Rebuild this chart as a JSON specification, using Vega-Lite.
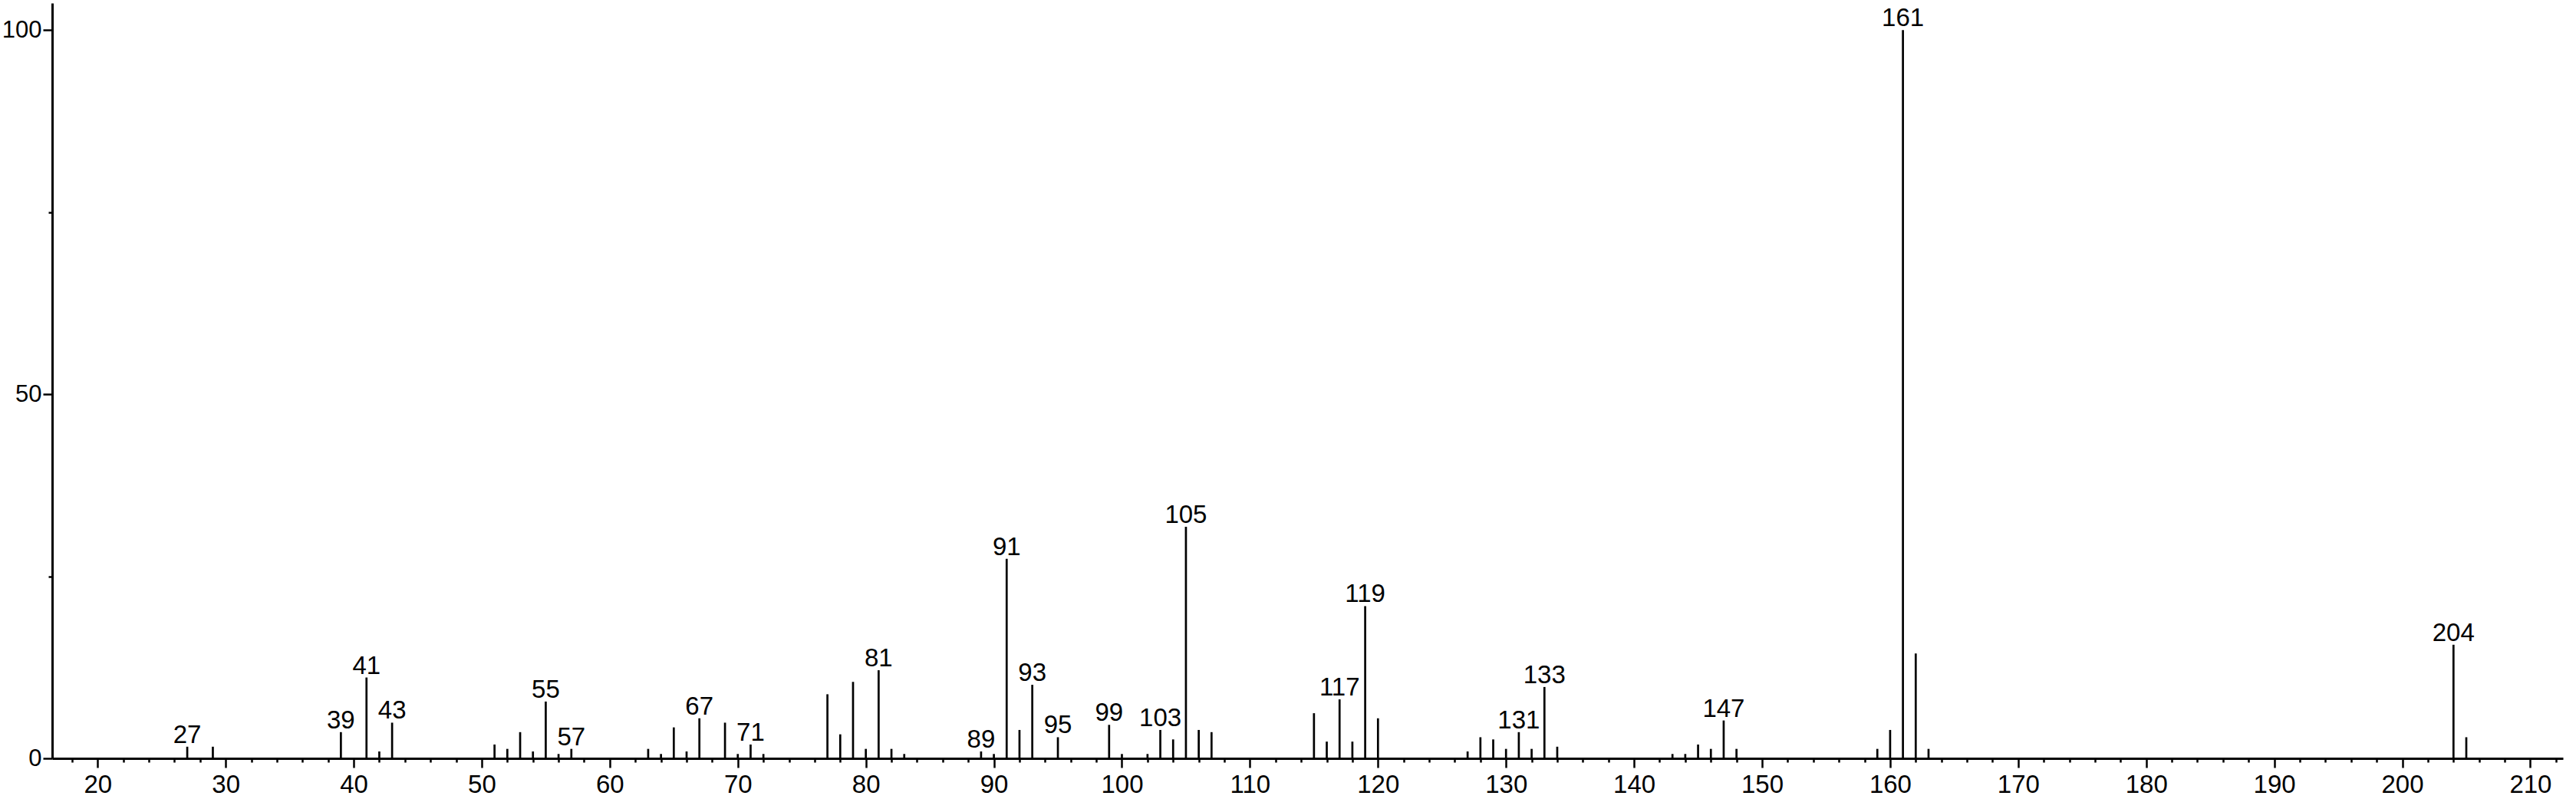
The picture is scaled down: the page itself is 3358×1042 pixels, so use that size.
{
  "$schema": "https://vega.github.io/schema/vega-lite/v6.json",
  "autosize": "none",
  "padding": {"left": 68, "top": 4, "right": 17, "bottom": 53},
  "width": 3273,
  "height": 985,
  "background": "white",
  "config": {
    "view": {"stroke": null},
    "font": "Liberation Sans",
    "axis": {
      "domainColor": "black",
      "domainWidth": 3,
      "tickColor": "black",
      "tickWidth": 2.5,
      "labelColor": "black",
      "labelFontSize": 33,
      "labelFont": "Liberation Sans",
      "grid": false,
      "title": null,
      "labelOverlap": false
    }
  },
  "data": {
    "values": [
      {"mz": 27, "intensity": 1.6, "lab": true},
      {"mz": 29, "intensity": 1.6, "lab": false},
      {"mz": 39, "intensity": 3.6, "lab": true},
      {"mz": 41, "intensity": 11.1, "lab": true},
      {"mz": 42, "intensity": 0.95, "lab": false},
      {"mz": 43, "intensity": 4.9, "lab": true},
      {"mz": 51, "intensity": 1.9, "lab": false},
      {"mz": 52, "intensity": 1.3, "lab": false},
      {"mz": 53, "intensity": 3.6, "lab": false},
      {"mz": 54, "intensity": 0.95, "lab": false},
      {"mz": 55, "intensity": 7.8, "lab": true},
      {"mz": 56, "intensity": 0.6, "lab": false},
      {"mz": 57, "intensity": 1.3, "lab": true},
      {"mz": 63, "intensity": 1.3, "lab": false},
      {"mz": 64, "intensity": 0.6, "lab": false},
      {"mz": 65, "intensity": 4.25, "lab": false},
      {"mz": 66, "intensity": 0.95, "lab": false},
      {"mz": 67, "intensity": 5.5, "lab": true},
      {"mz": 69, "intensity": 4.9, "lab": false},
      {"mz": 70, "intensity": 0.6, "lab": false},
      {"mz": 71, "intensity": 1.9, "lab": true},
      {"mz": 72, "intensity": 0.6, "lab": false},
      {"mz": 77, "intensity": 8.8, "lab": false},
      {"mz": 78, "intensity": 3.3, "lab": false},
      {"mz": 79, "intensity": 10.5, "lab": false},
      {"mz": 80, "intensity": 1.3, "lab": false},
      {"mz": 81, "intensity": 12.1, "lab": true},
      {"mz": 82, "intensity": 1.3, "lab": false},
      {"mz": 83, "intensity": 0.6, "lab": false},
      {"mz": 89, "intensity": 0.95, "lab": true},
      {"mz": 90, "intensity": 0.6, "lab": false},
      {"mz": 91, "intensity": 27.4, "lab": true},
      {"mz": 92, "intensity": 3.9, "lab": false},
      {"mz": 93, "intensity": 10.1, "lab": true},
      {"mz": 95, "intensity": 2.9, "lab": true},
      {"mz": 99, "intensity": 4.6, "lab": true},
      {"mz": 100, "intensity": 0.6, "lab": false},
      {"mz": 102, "intensity": 0.6, "lab": false},
      {"mz": 103, "intensity": 3.9, "lab": true},
      {"mz": 104, "intensity": 2.6, "lab": false},
      {"mz": 105, "intensity": 31.8, "lab": true},
      {"mz": 106, "intensity": 3.9, "lab": false},
      {"mz": 107, "intensity": 3.6, "lab": false},
      {"mz": 115, "intensity": 6.2, "lab": false},
      {"mz": 116, "intensity": 2.3, "lab": false},
      {"mz": 117, "intensity": 8.1, "lab": true},
      {"mz": 118, "intensity": 2.3, "lab": false},
      {"mz": 119, "intensity": 20.9, "lab": true},
      {"mz": 120, "intensity": 5.5, "lab": false},
      {"mz": 127, "intensity": 0.95, "lab": false},
      {"mz": 128, "intensity": 2.9, "lab": false},
      {"mz": 129, "intensity": 2.6, "lab": false},
      {"mz": 130, "intensity": 1.3, "lab": false},
      {"mz": 131, "intensity": 3.6, "lab": true},
      {"mz": 132, "intensity": 1.3, "lab": false},
      {"mz": 133, "intensity": 9.8, "lab": true},
      {"mz": 134, "intensity": 1.6, "lab": false},
      {"mz": 143, "intensity": 0.6, "lab": false},
      {"mz": 144, "intensity": 0.6, "lab": false},
      {"mz": 145, "intensity": 1.9, "lab": false},
      {"mz": 146, "intensity": 1.3, "lab": false},
      {"mz": 147, "intensity": 5.2, "lab": true},
      {"mz": 148, "intensity": 1.3, "lab": false},
      {"mz": 159, "intensity": 1.3, "lab": false},
      {"mz": 160, "intensity": 3.9, "lab": false},
      {"mz": 161, "intensity": 100, "lab": true},
      {"mz": 162, "intensity": 14.4, "lab": false},
      {"mz": 163, "intensity": 1.3, "lab": false},
      {"mz": 204, "intensity": 15.6, "lab": true},
      {"mz": 205, "intensity": 2.9, "lab": false}
    ]
  },
  "resolve": {"axis": {"x": "independent"}},
  "layer": [
    {
      "mark": {"type": "rule", "color": "black", "strokeWidth": 2.7},
      "encoding": {
        "x": {
          "field": "mz",
          "type": "quantitative",
          "scale": {"domain": [16.45, 212.55], "nice": false, "zero": false},
          "axis": {
            "orient": "bottom",
            "values": [20,30,40,50,60,70,80,90,100,110,120,130,140,150,160,170,180,190,200,210],
            "tickSize": 12,
            "labelPadding": 6,
            "labelOverlap": false,
            "labelFlush": false,
            "format": "d"
          }
        },
        "y": {
          "field": "intensity",
          "type": "quantitative",
          "scale": {"domain": [0, 103.7], "nice": false},
          "axis": {
            "values": [0, 25, 50, 75, 100],
            "labelExpr": "datum.value % 50 === 0 ? datum.label : ''",
            "tickSize": {"condition": {"test": "datum.value % 50 === 0", "value": 12}, "value": 5},
            "labelPadding": 2,
            "labelFontSize": 31,
            "labelOverlap": false,
            "labelFlush": false
          }
        },
        "y2": {"datum": 0}
      }
    },
    {
      "transform": [{"filter": "datum.lab"}],
      "mark": {"type": "text", "fontSize": 33, "color": "black", "baseline": "alphabetic", "align": "center", "dy": -5, "font": "Liberation Sans"},
      "encoding": {
        "x": {
          "field": "mz",
          "type": "quantitative",
          "axis": {
            "orient": "bottom",
            "values": [18,22,24,26,28,32,34,36,38,42,44,46,48,52,54,56,58,62,64,66,68,72,74,76,78,82,84,86,88,92,94,96,98,102,104,106,108,112,114,116,118,122,124,126,128,132,134,136,138,142,144,146,148,152,154,156,158,162,164,166,168,172,174,176,178,182,184,186,188,192,194,196,198,202,204,206,208,212],
            "tickSize": 5,
            "labels": false,
            "domain": false,
            "offset": 0
          }
        },
        "y": {"field": "intensity", "type": "quantitative"},
        "text": {"field": "mz", "type": "quantitative", "format": "d"}
      }
    }
  ]
}
